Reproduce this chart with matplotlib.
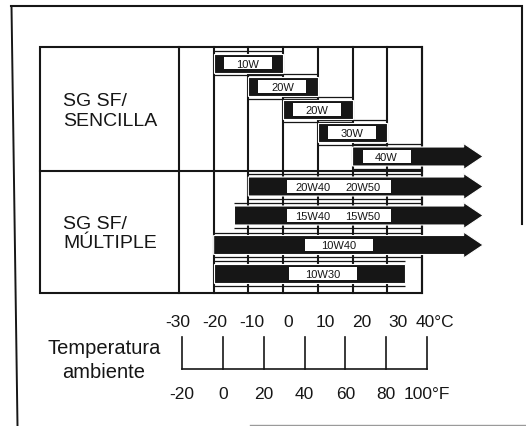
import matplotlib
matplotlib.use('Agg')
import matplotlib.pyplot as plt
from matplotlib.patches import Rectangle, Polygon

plt.rcParams['font.family'] = ['Liberation Sans', 'DejaVu Sans']

# ---------------- data ----------------
single_grades = ['10W', '20W', '20W', '30W', '40W']
single_low = [-30, -20, -10, 0, 10]          # deg C
single_high = [-10, 0, 10, 20, None]         # None = open ended (arrow)

multi_grades = [('20W40', '20W50'), ('15W40', '15W50'), ('10W40',), ('10W30',)]
multi_low = [-20, -24, -30, -30]
multi_high = [None, None, None, 25]

grid_c = [-40, -30, -20, -10, 0, 10, 20, 30]
celsius_labels = [-30, -20, -10, 0, 10, 20, 30, 40]
fahrenheit_labels = [-20, 0, 20, 40, 60, 80, 100]

section_labels = ['SG SF/\nSENCILLA', 'SG SF/\nMÚLTIPLE']
axis_title = 'Temperatura\nambiente'

# ---------------- layout ----------------
W, H = 526, 427
INK = '#161616'
fig = plt.figure(figsize=(W / 100, H / 100), dpi=100)
fig.patch.set_facecolor('white')


def fr(x0, y0, x1, y1):
    return [x0 / W, 1 - y1 / H, (x1 - x0) / W, (y1 - y0) / H]


# outer frame drawn in a full-figure overlay axes (pixel units)
frame = fig.add_axes([0, 0, 1, 1], zorder=0)
frame.set_xlim(0, W)
frame.set_ylim(H, 0)
frame.axis('off')
frame.plot([11, 521.5, 521.5], [7, 7, 225], color=INK, lw=1.5,
           solid_joinstyle='miter')
frame.plot([11.5, 17.5], [7, 427], color=INK, lw=1.4, solid_capstyle='butt')
frame.plot([250, 526], [425.5, 425.5], color='#9a9a9a', lw=1.0)

# table axes: x in deg C, y in row units (pixel-like, top down)
ax = fig.add_axes(fr(40, 48, 422, 294), zorder=1)
ax.set_xlim(-80, 30)
ax.set_ylim(246, 0)
ax.axis('off')

LW = 1.5
ax.add_patch(Rectangle((-80, 0), 110, 246, fill=False, ec=INK, lw=LW,
                       clip_on=False, zorder=1))
ax.plot([-80, 30], [124, 124], color=INK, lw=LW, zorder=1, clip_on=False)
for g in grid_c:
    ax.plot([g, g], [0, 246], color=INK, lw=LW, zorder=1, clip_on=False)

single_y = [16, 39.5, 62.5, 85.5, 109.5]
multi_y = [139.5, 168.5, 198, 226.5]
BAR_H = 19
HEAD_START, TIP, HEAD_H = 42, 47.6, 13
LABEL_FONT = ['Liberation Sans Narrow', 'Liberation Sans', 'DejaVu Sans']


def draw_bar(lo, hi, y):
    h2 = BAR_H / 2
    right_in = 30 if hi is None else hi
    # thin outline lines with white gap
    for yy in (y - h2 - 2.6, y + h2 + 2.6):
        ax.plot([lo, right_in], [yy, yy], color=INK, lw=0.9, zorder=2,
                solid_capstyle='butt')
    if hi is None:
        pts = [(lo, y - h2), (HEAD_START, y - h2), (HEAD_START, y - HEAD_H),
               (TIP, y), (HEAD_START, y + HEAD_H), (HEAD_START, y + h2),
               (lo, y + h2)]
    else:
        pts = [(lo, y - h2), (hi, y - h2), (hi, y + h2), (lo, y + h2)]
    ax.add_patch(Polygon(pts, closed=True, fc=INK, ec='white', lw=0.8,
                         clip_on=False, zorder=3))


def draw_box(x0, x1, y, texts, xs):
    ax.add_patch(Rectangle((x0, y - 6.2), x1 - x0, 12.4, fc='white', ec='none',
                           zorder=4, clip_on=False))
    for t, xt in zip(texts, xs):
        ax.text(xt, y + 0.5, t, ha='center', va='center', fontsize=8,
                family=LABEL_FONT, color=INK, zorder=5)


for g, lo, hi, y in zip(single_grades, single_low, single_high, single_y):
    draw_bar(lo, hi, y)
    draw_box(lo + 2.9, lo + 16.7, y, [g], [lo + 9.8])

multi_box = [(-9, 21), (-9, 21), (-3.7, 15.9), (-8.3, 11.3)]
for grades, lo, hi, y, (b0, b1) in zip(multi_grades, multi_low, multi_high,
                                        multi_y, multi_box):
    draw_bar(lo, hi, y)
    if len(grades) == 2:
        xs = [b0 + 7.6, b0 + 22.0]
    else:
        xs = [(b0 + b1) / 2]
    draw_box(b0, b1, y, grades, xs)

# section labels
ax.text(-73.4, 63.5, section_labels[0], ha='left', va='center', fontsize=14,
        color=INK, linespacing=1.22)
ax.text(-73.4, 186, section_labels[1], ha='left', va='center', fontsize=14,
        color=INK, linespacing=1.22)

# temperature scale
bx = fig.add_axes(fr(182, 338, 427, 370), zorder=1)
bx.set_xlim(-20, 100)
bx.set_ylim(0, 1)
bx.axis('off')
for f in fahrenheit_labels:
    bx.plot([f, f], [0, 1], color=INK, lw=1.2, clip_on=False)
bx.plot([-20, 100], [0, 0], color=INK, lw=1.2, clip_on=False,
        solid_capstyle='projecting')
for i, c in enumerate(celsius_labels):
    txt = f'{c}°C' if i == len(celsius_labels) - 1 else str(c)
    bx.text(c * 9 / 5 + 32, 1.47, txt, ha='center', va='center',
            fontsize=12.5, color=INK)
for i, f in enumerate(fahrenheit_labels):
    txt = f'{f}°F' if i == len(fahrenheit_labels) - 1 else str(f)
    bx.text(f, -0.78, txt, ha='center', va='center', fontsize=12.5, color=INK)

fig.text(104 / W, 1 - 360.5 / H, axis_title, ha='center', va='center',
         fontsize=14.5, color=INK, linespacing=1.32)

fig.savefig('out.png', dpi=100, facecolor='white')
